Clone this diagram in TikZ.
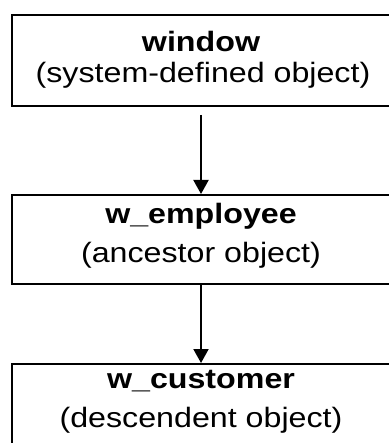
\documentclass[tikz,border=0pt]{standalone}
\usepackage{fontspec}
\setmainfont{Liberation Sans}[FakeStretch=1.15]
\usetikzlibrary{arrows.meta}
\tikzset{
  box/.style={draw=black, line width=2pt, fill=white, rectangle, minimum width=378pt, inner sep=0pt, anchor=north},
  title/.style={font=\fontsize{28pt}{30pt}\selectfont\bfseries, anchor=base, inner sep=0pt},
  sub/.style={font=\fontsize{28pt}{30pt}\selectfont, anchor=base, inner sep=0pt},
  conn/.style={line width=2pt, -{Triangle[width=15pt,length=14pt]}}
}
\begin{document}
\begin{tikzpicture}[x=1pt,y=-1pt]
\useasboundingbox (0,0) rectangle (388,443);
\node[box, minimum height=91pt] (b1) at (201,14) {};
\node[box, minimum height=89pt] (b2) at (201,194) {};
\node[box, minimum height=100pt] (b3) at (201,363) {};
\node[title] (t1) at (201,52) {window};
\node[sub] (s1) at (203,83) {(system-defined object)};
\node[title] (t2) at (201,223) {w\_employee};
\node[sub] (s2) at (201,262) {(ancestor object)};
\node[title] (t3) at (201,388) {w\_customer};
\node[sub] (s3) at (201,427) {(descendent object)};
\draw[conn, shorten <=8pt] (b1.south) -- (b2.north);
\draw[conn] (b2.south) -- (b3.north);
\end{tikzpicture}
\end{document}
